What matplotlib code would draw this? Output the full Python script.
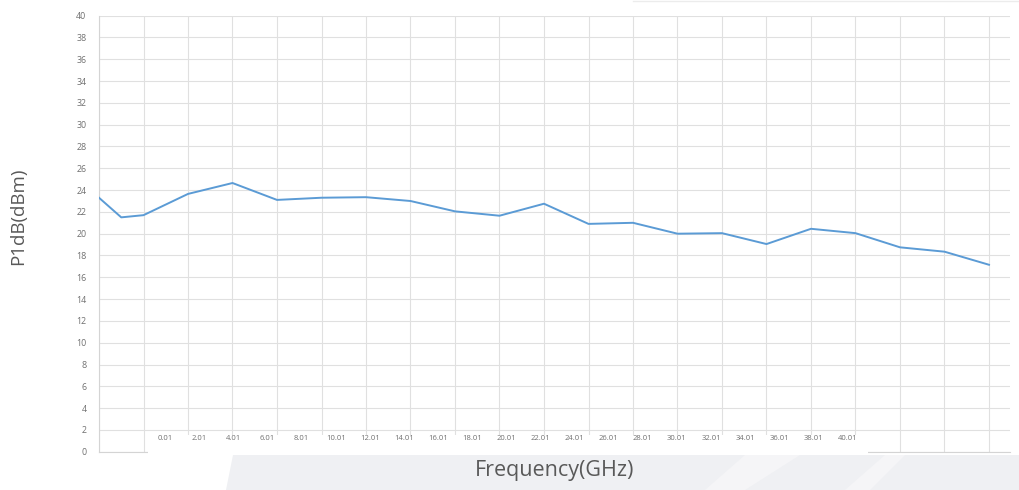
import matplotlib
matplotlib.use("Agg")
import matplotlib.pyplot as plt
from matplotlib.patches import Polygon

# ---- data ----
freq = [0, 1, 2, 4, 6, 8, 10, 12, 14, 16, 18, 20, 22, 24, 26, 28, 30, 32, 34, 36, 38, 40]
p1db = [23.3, 21.5, 21.7, 23.65, 24.65, 23.1, 23.3, 23.35, 23.0, 22.05, 21.65, 22.75,
        20.9, 21.0, 20.0, 20.05, 19.05, 20.45, 20.05, 18.75, 18.35, 17.15]
y_ticks = list(range(0, 41, 2))
x_grid = list(range(0, 41, 2))
tick_labels = ["0.01", "2.01", "4.01", "6.01", "8.01", "10.01", "12.01", "14.01", "16.01",
               "18.01", "20.01", "22.01", "24.01", "26.01", "28.01", "30.01", "32.01",
               "34.01", "36.01", "38.01", "40.01"]

W, H = 1019, 490
fig = plt.figure(figsize=(W / 100, H / 100), dpi=100)
fig.patch.set_facecolor("white")

def fx(x):
    return x / W

def fy(y):
    return 1 - y / H

# background band at the bottom
band_color = "#eff0f3"
fig.add_artist(Polygon([(fx(233), fy(455)), (fx(1019), fy(455)), (fx(1019), fy(490)), (fx(226), fy(490))],
                       closed=True, transform=fig.transFigure, facecolor=band_color, edgecolor="none", zorder=0))
for (xt0, xt1, xb0, xb1) in [(745, 800, 705, 745), (885, 905, 845, 870)]:
    fig.add_artist(Polygon([(fx(xt0), fy(455)), (fx(xt1), fy(455)), (fx(xb1), fy(490)), (fx(xb0), fy(490))],
                           closed=True, transform=fig.transFigure, facecolor="#f5f5f7", edgecolor="none", zorder=0))
# faint line at top right
fig.add_artist(plt.Line2D([fx(633), fx(1019)], [fy(1), fy(1)], transform=fig.transFigure,
                          color="#ececec", lw=1.0))

left, right = 99, 1010
top, bottom = 15.7, 451.7
ax = fig.add_axes([fx(left), fy(bottom), fx(right - left), (bottom - top) / H])
ax.set_facecolor("none")
ax.plot(freq, p1db, color="#5b9bd5", lw=1.4, zorder=3, solid_joinstyle="round")
ax.set_xlim(0, 40 + (right - 989) / 22.25)
ax.set_ylim(0, 40)
ax.set_yticks(y_ticks)
ax.set_xticks(x_grid)
ax.set_xticklabels([])
ax.grid(True, color="#e0e0e0", lw=0.8)
ax.set_axisbelow(True)
ax.tick_params(axis="both", length=0)
ax.tick_params(axis="y", labelsize=6.4, labelcolor="#707070", pad=9)
for s in ["top", "right"]:
    ax.spines[s].set_visible(False)
for s in ["left", "bottom"]:
    ax.spines[s].set_color("#d4d4d4")
    ax.spines[s].set_linewidth(0.8)
for lab in ax.get_yticklabels():
    lab.set_fontfamily("Open Sans")

# white box with category labels
bx0, bx1, by0, by1 = 148, 868, 435, 453.5
bax = fig.add_axes([fx(bx0), fy(by1), fx(bx1 - bx0), (by1 - by0) / H])
bax.set_facecolor("white")
bax.set_xlim(-0.5, 20.6)
bax.set_ylim(0, 1)
bax.set_xticks(range(len(tick_labels)))
bax.set_xticklabels(tick_labels)
bax.tick_params(axis="x", direction="in", length=0, pad=-13, labelsize=5.5, labelcolor="#707070")
bax.set_yticks([])
for s in bax.spines.values():
    s.set_visible(False)
for lab in bax.get_xticklabels():
    lab.set_fontfamily("Open Sans")

fig.text(fx(18), fy(216), "P1dB(dBm)", rotation=90, ha="center", va="center",
         fontsize=13.5, color="#595959", family="Open Sans")
fig.text(fx(555), fy(470), "Frequency(GHz)", ha="center", va="center",
         fontsize=15.5, color="#595959", family="Open Sans")

fig.savefig("out.png", dpi=100, facecolor="white")
